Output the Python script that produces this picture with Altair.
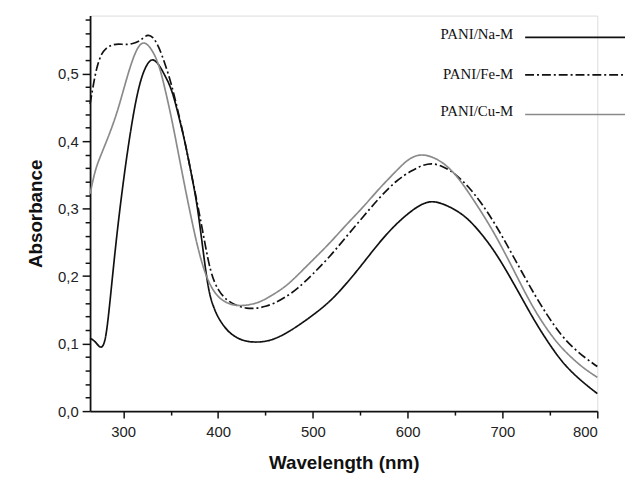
import altair as alt
import pandas as pd

series = ["PANI/Na-M", "PANI/Fe-M", "PANI/Cu-M"]

na_w = [265, 270, 274, 278, 282, 287, 293, 300, 306, 313, 320, 327, 332, 338, 344, 351, 358, 365, 372, 379,
        389, 395, 400, 410, 420, 430, 440, 450, 460, 470, 483, 500, 518, 535, 553, 570, 588, 605, 615, 626,
        640, 657, 670, 685, 697, 709, 721, 734, 748, 762, 775, 788, 800]
na_a = [0.108, 0.104, 0.096, 0.093, 0.108, 0.176, 0.26, 0.34, 0.40, 0.46, 0.50, 0.519, 0.522, 0.513, 0.497,
        0.478, 0.44, 0.40, 0.35, 0.30, 0.18, 0.155, 0.138, 0.118, 0.108, 0.103, 0.102, 0.103, 0.107, 0.114,
        0.125, 0.142, 0.162, 0.188, 0.219, 0.250, 0.278, 0.298, 0.307, 0.312, 0.306, 0.293, 0.276, 0.250, 0.225,
        0.196, 0.166, 0.133, 0.102, 0.074, 0.055, 0.039, 0.026]

fe_w = [265, 268, 272, 277, 282, 288, 295, 302, 309, 316, 321, 326, 331, 337, 344, 351, 358, 365, 372, 379,
        386, 392, 400, 410, 420, 430, 440, 450, 460, 470, 483, 500, 518, 535, 553, 570, 588, 605, 615, 626,
        638, 650, 664, 678, 692, 706, 720, 734, 748, 762, 775, 788, 800]
fe_a = [0.455, 0.48, 0.51, 0.530, 0.538, 0.543, 0.544, 0.543, 0.544, 0.547, 0.553, 0.558, 0.555, 0.542, 0.515,
        0.484, 0.443, 0.40, 0.35, 0.302, 0.25, 0.205, 0.178, 0.163, 0.156, 0.152, 0.152, 0.155, 0.160, 0.168,
        0.180, 0.203, 0.229, 0.258, 0.288, 0.316, 0.342, 0.357, 0.364, 0.368, 0.362, 0.352, 0.333, 0.308,
        0.278, 0.243, 0.207, 0.172, 0.140, 0.112, 0.093, 0.078, 0.066]

cu_w = [265, 270, 274, 281, 288, 295, 302, 309, 315, 321, 328, 337, 344, 351, 358, 365, 372, 379, 387, 396,
        405, 415, 425, 435, 445, 455, 470, 483, 500, 518, 535, 553, 570, 588, 600, 612, 625, 640, 654, 668,
        680, 692, 706, 720, 732, 744, 758, 772, 786, 800]
cu_a = [0.322, 0.355, 0.371, 0.395, 0.42, 0.449, 0.485, 0.518, 0.539, 0.548, 0.541, 0.518, 0.478, 0.434, 0.383,
        0.332, 0.284, 0.239, 0.200, 0.175, 0.163, 0.157, 0.156, 0.158, 0.162, 0.170, 0.183, 0.200, 0.224,
        0.249, 0.276, 0.302, 0.330, 0.356, 0.373, 0.381, 0.378, 0.366, 0.345, 0.316, 0.290, 0.262, 0.225,
        0.186, 0.154, 0.127, 0.100, 0.080, 0.063, 0.050]

x_ticks = [300, 350, 400, 450, 500, 550, 600, 650, 700, 750, 800]
y_ticks = [round(i * 0.02, 2) for i in range(30)]

colors = ["#111111", "#111111", "#8a8a8a"]
dashes = [[1, 0], [9, 3, 2, 3], [1, 0]]

df = pd.concat([
    pd.DataFrame({"w": na_w, "a": na_a, "s": series[0]}),
    pd.DataFrame({"w": fe_w, "a": fe_a, "s": series[1]}),
    pd.DataFrame({"w": cu_w, "a": cu_a, "s": series[2]}),
])

x_axis = alt.Axis(
    values=x_ticks,
    labelExpr="datum.value % 100 === 0 ? datum.label : ''",
    tickSize={"condition": {"test": "datum.value % 100 === 0", "value": 7}, "value": 4},
    tickColor="#111111", domainColor="#111111", domainWidth=1.8, tickWidth=1.5,
    labelFont="Liberation Sans", labelFontSize=15, labelColor="#222222", labelPadding=7,
    titleFont="Liberation Sans", titleFontSize=19, titleFontWeight="bold", titleColor="#111111",
    titlePadding=14, grid=False,
)
y_axis = alt.Axis(
    values=y_ticks,
    labelExpr="abs(datum.value*10 - round(datum.value*10)) < 0.0001 ? replace(format(datum.value, '.1f'), '.', ',') : ''",
    tickSize={"condition": {"test": "abs(datum.value*10 - round(datum.value*10)) < 0.0001", "value": 8}, "value": 5},
    tickColor="#111111", domainColor="#111111", domainWidth=1.8, tickWidth=1.5,
    labelFont="Liberation Sans", labelFontSize=15, labelColor="#222222", labelPadding=4,
    titleFont="Liberation Sans", titleFontSize=19, titleFontWeight="bold", titleColor="#111111",
    titlePadding=12, grid=False,
)

lines = alt.Chart(df).mark_line(interpolate="basis", strokeWidth=1.7).encode(
    x=alt.X("w:Q", scale=alt.Scale(domain=[265, 800], nice=False, zero=False), axis=x_axis, title="Wavelength (nm)"),
    y=alt.Y("a:Q", scale=alt.Scale(domain=[0, 0.586], nice=False), axis=y_axis, title="Absorbance"),
    color=alt.Color("s:N", scale=alt.Scale(domain=series, range=colors), legend=None),
    strokeDash=alt.StrokeDash("s:N", scale=alt.Scale(domain=series, range=dashes), legend=None),
)

legend_layers = []
text_y = [19, 59, 97]
line_y = [22, 60, 100]
for i, name in enumerate(series):
    ldf = pd.DataFrame({"s": [name]})
    legend_layers.append(
        alt.Chart(ldf).mark_text(align="right", baseline="middle", font="Liberation Serif",
                                 fontSize=15, color="#111111").encode(
            x=alt.value(428), y=alt.value(text_y[i]), text="s:N")
    )
    legend_layers.append(
        alt.Chart(ldf).mark_rule(color=colors[i], strokeWidth=1.7, strokeDash=dashes[i]).encode(
            x=alt.value(440), x2=alt.value(541), y=alt.value(line_y[i]))
    )

chart = alt.layer(lines, *legend_layers).properties(
    width=513, height=400,
    autosize=alt.AutoSizeParams(type="none"),
    padding={"left": 83, "top": 5, "right": 28, "bottom": 67},
).configure_view(stroke=None).configure(background="white")

chart.save("out.html", embed_options={"renderer": "svg", "actions": False})
